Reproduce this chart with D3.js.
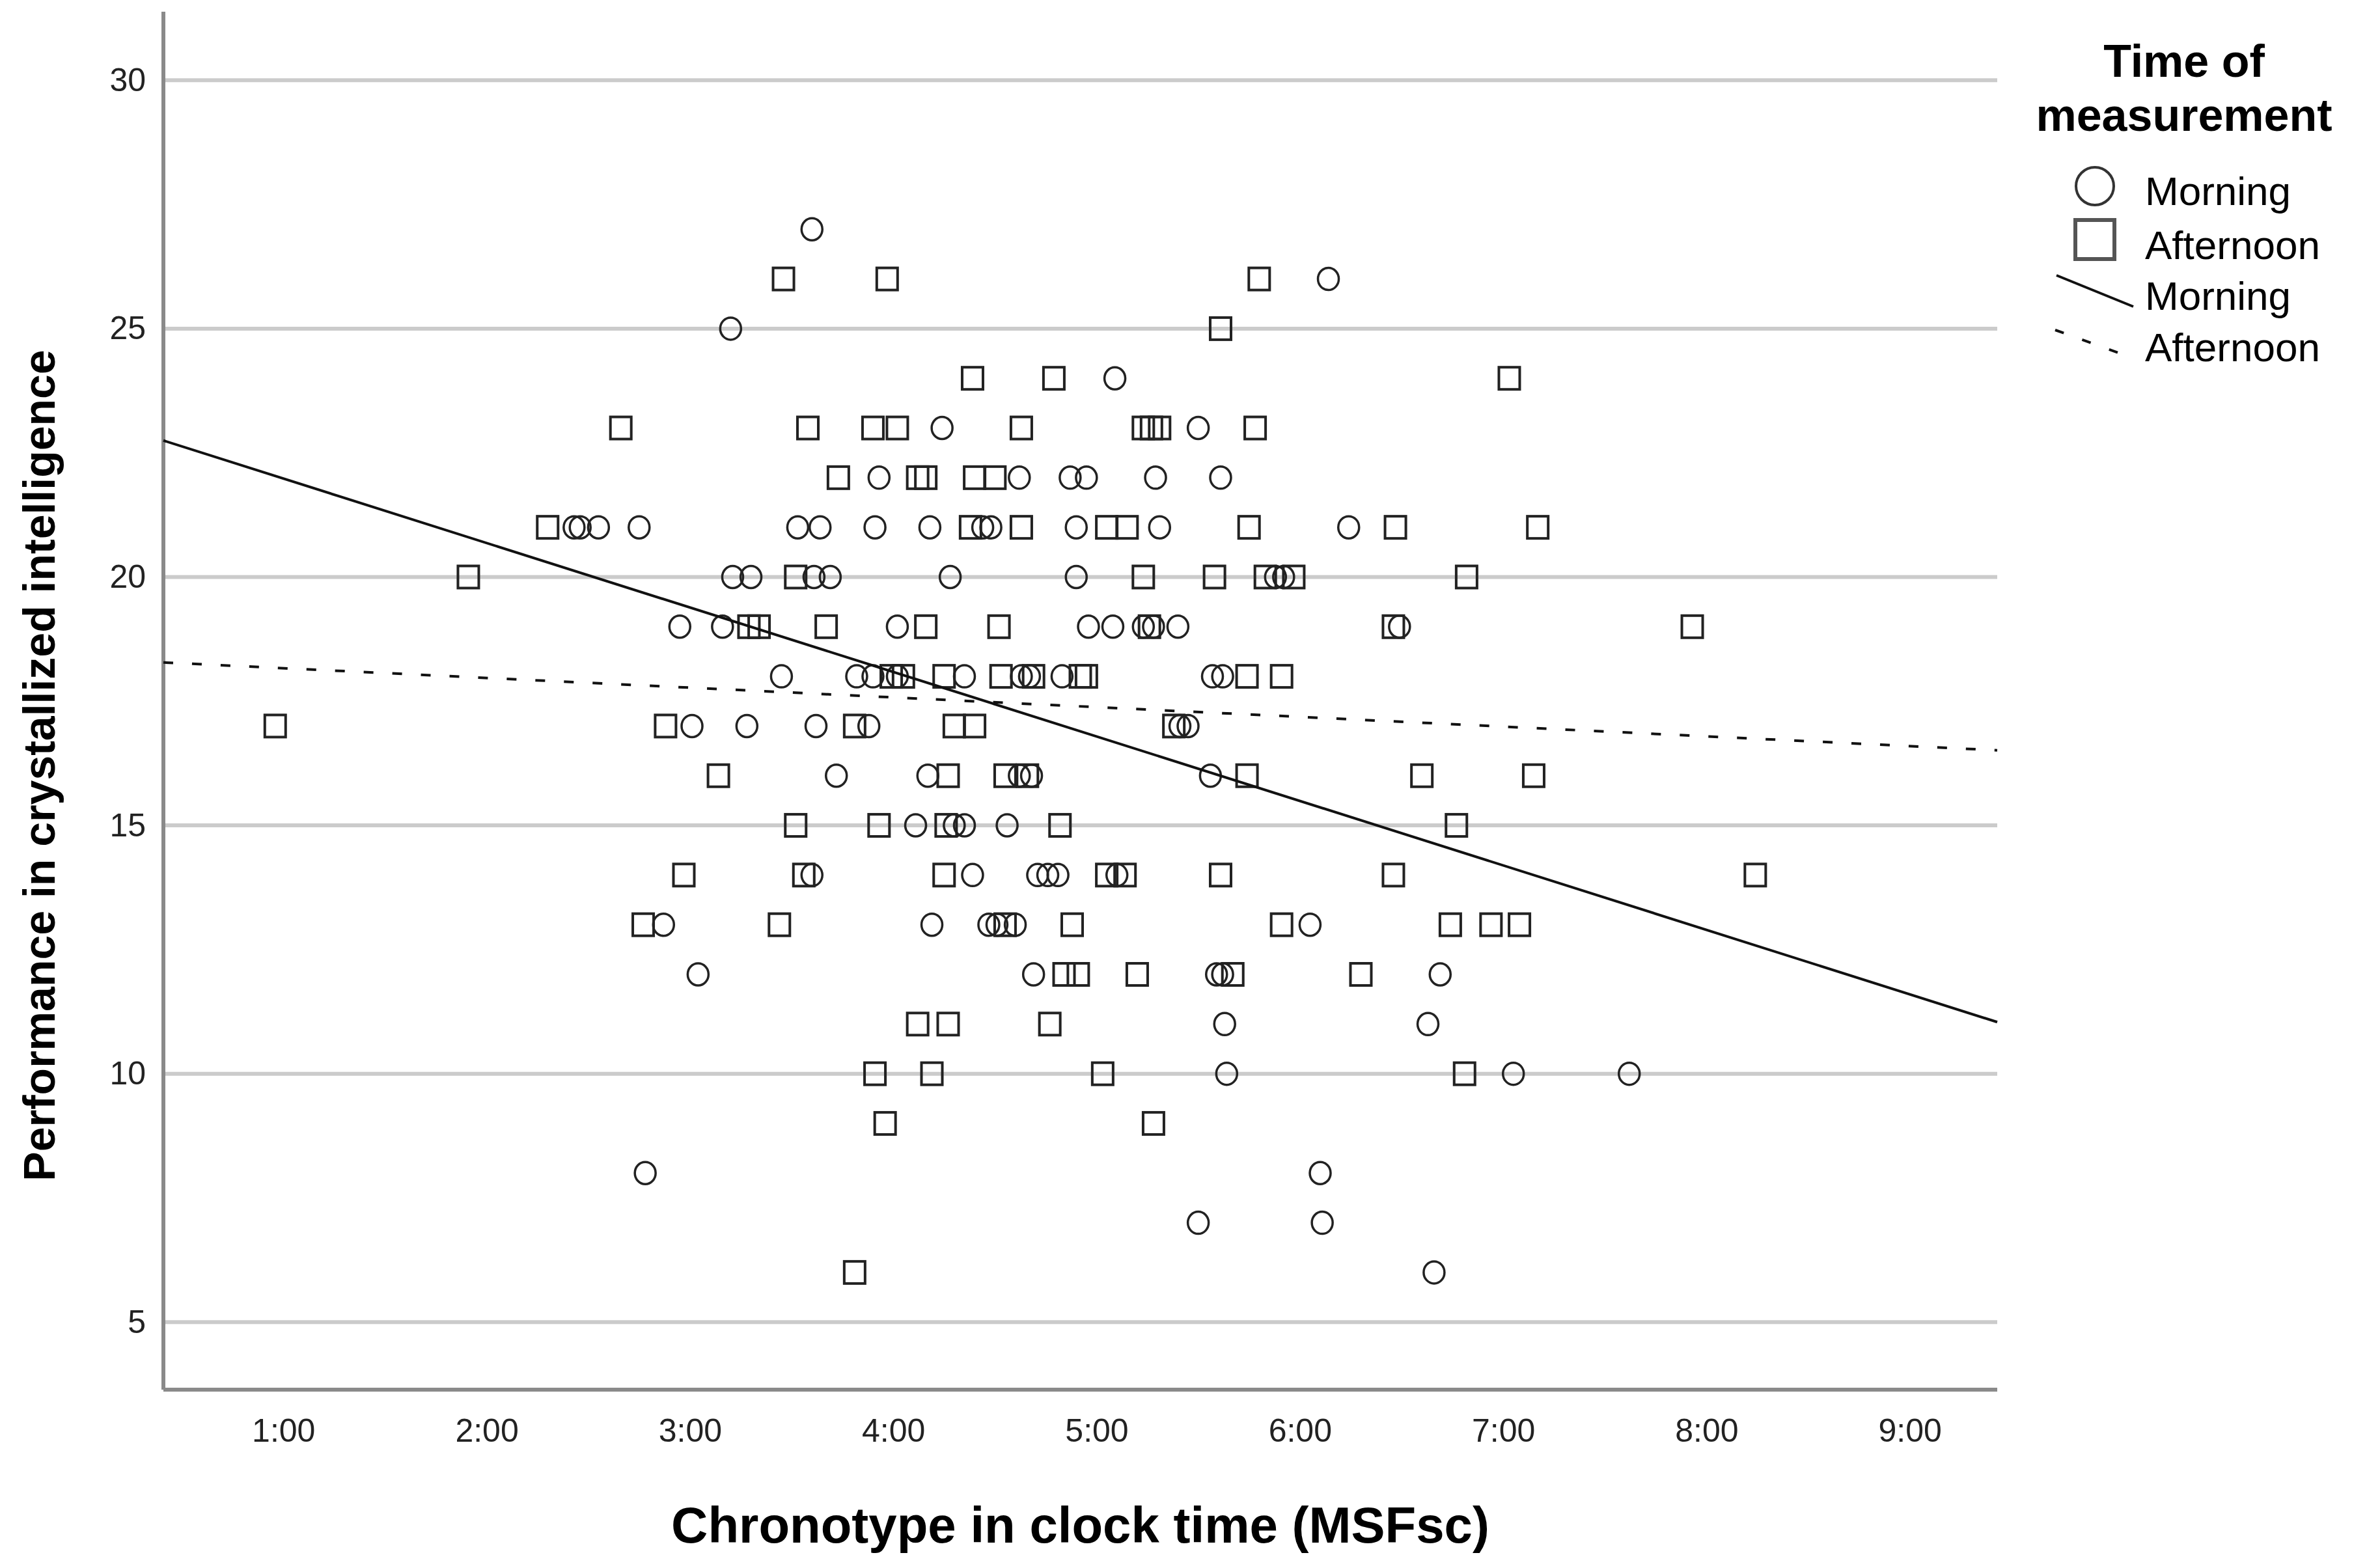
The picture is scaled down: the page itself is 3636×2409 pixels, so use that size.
<!DOCTYPE html>
<html>
<head>
<meta charset="utf-8">
<script src="https://cdn.jsdelivr.net/npm/d3@7"></script>
<style>
  body { margin: 0; background: #fff; }
  text { font-family: "Liberation Sans", Arial, sans-serif; }
</style>
</head>
<body>
<div id="chart"></div>
<script>
// [hours (MSFsc), score]
var morningPts = [
  [3.60,27],
  [6.14,26],
  [3.20,25],
  [5.09,24],
  [4.24,23],[5.50,23],
  [3.93,22],[4.62,22],[4.87,22],[4.95,22],[5.29,22],[5.61,22],
  [2.43,21],[2.46,21],[2.55,21],[2.75,21],[3.53,21],[3.64,21],[3.91,21],[4.18,21],[4.44,21],[4.48,21],[4.90,21],[5.31,21],[6.24,21],
  [3.21,20],[3.30,20],[3.61,20],[3.69,20],[4.28,20],[4.90,20],[5.88,20],[5.92,20],
  [2.95,19],[3.16,19],[4.02,19],[4.96,19],[5.08,19],[5.23,19],[5.28,19],[5.40,19],[6.49,19],
  [3.45,18],[3.82,18],[3.90,18],[4.02,18],[4.35,18],[4.63,18],[4.67,18],[4.83,18],[5.57,18],[5.62,18],
  [3.01,17],[3.28,17],[3.62,17],[3.88,17],[5.41,17],[5.45,17],
  [3.72,16],[4.17,16],[4.62,16],[4.68,16],[5.56,16],
  [4.11,15],[4.30,15],[4.35,15],[4.56,15],
  [3.60,14],[4.39,14],[4.71,14],[4.76,14],[4.81,14],[5.10,14],
  [2.87,13],[4.19,13],[4.47,13],[4.51,13],[4.60,13],[6.05,13],
  [3.04,12],[4.69,12],[5.59,12],[5.62,12],[6.69,12],
  [5.63,11],[6.63,11],
  [5.64,10],[7.05,10],[7.62,10],
  [2.78,8],[6.10,8],
  [5.50,7],[6.11,7],
  [6.66,6]
]

var afternoonPts = [
  [3.46,26],[3.97,26],[5.80,26],
  [5.61,25],
  [4.39,24],[4.79,24],[7.03,24],
  [2.66,23],[3.58,23],[3.90,23],[4.02,23],[4.63,23],[5.23,23],[5.27,23],[5.31,23],[5.78,23],
  [3.73,22],[4.12,22],[4.16,22],[4.40,22],[4.50,22],
  [2.30,21],[4.38,21],[4.63,21],[5.05,21],[5.15,21],[5.75,21],[6.47,21],[7.17,21],
  [1.91,20],[3.52,20],[5.23,20],[5.58,20],[5.83,20],[5.97,20],[6.82,20],
  [3.29,19],[3.34,19],[3.67,19],[4.16,19],[4.52,19],[5.26,19],[6.46,19],[7.93,19],
  [3.99,18],[4.05,18],[4.25,18],[4.53,18],[4.69,18],[4.92,18],[4.95,18],[5.74,18],[5.91,18],
  [0.96,17],[2.88,17],[3.81,17],[4.30,17],[4.40,17],[5.38,17],
  [3.14,16],[4.27,16],[4.55,16],[4.66,16],[5.74,16],[6.60,16],[7.15,16],
  [3.52,15],[3.93,15],[4.26,15],[4.82,15],[6.77,15],
  [2.97,14],[3.56,14],[4.25,14],[5.05,14],[5.14,14],[5.61,14],[6.46,14],[8.24,14],
  [2.77,13],[3.44,13],[4.55,13],[4.88,13],[5.91,13],[6.74,13],[6.94,13],[7.08,13],
  [4.84,12],[4.91,12],[5.20,12],[5.67,12],[6.30,12],
  [4.12,11],[4.27,11],[4.77,11],
  [3.91,10],[4.19,10],[5.03,10],[6.81,10],
  [3.96,9],[5.28,9],
  [3.81,6]
]

// linear fit lines: [intercept, slope]
var morningFit = [23.28, -1.298]
var afternoonFit = [18.36, -0.196]

var xTicks = [1, 2, 3, 4, 5, 6, 7, 8, 9]
var yTicks = [5, 10, 15, 20, 25, 30]
var legendLabels = ["Morning", "Afternoon"]

var width = 3636, height = 2409
var plot = {left: 251, right: 3068, top: 18, bottom: 2135}

var svg = d3.select("#chart").append("svg")
    .attr("width", width)
    .attr("height", height)

svg.append("rect").attr("width", width).attr("height", height).attr("fill", "#fff")

var x = d3.scaleLinear()
    .domain([0.41, 9.43])
    .range([plot.left, plot.right])

var y = d3.scaleLinear()
    .domain([3.64, 31.38])
    .range([plot.bottom, plot.top])

// gridlines
svg.append("g")
  .selectAll("line")
    .data(yTicks)
  .enter().append("line")
    .attr("x1", plot.left)
    .attr("x2", plot.right)
    .attr("y1", function(d) { return y(d) })
    .attr("y2", function(d) { return y(d) })
    .attr("stroke", "#cbcbcb")
    .attr("stroke-width", 6)

// axes (no tick marks, just labels)
var yAxis = d3.axisLeft(y).tickValues(yTicks).tickSize(0).tickPadding(27)
var gy = svg.append("g")
    .attr("transform", "translate(" + plot.left + ",0)")
    .call(yAxis)
gy.select(".domain").remove()
gy.selectAll("text")
    .style("font-family", '"Liberation Sans", Arial, sans-serif')
    .style("font-size", "50px")
    .attr("fill", "#222")

var xAxis = d3.axisBottom(x).tickValues(xTicks).tickSize(0).tickPadding(44)
  .tickFormat(function(d) { return d + ":00" })
var gx = svg.append("g")
    .attr("transform", "translate(0," + plot.bottom + ")")
    .call(xAxis)
gx.select(".domain").remove()
gx.selectAll("text")
    .style("font-family", '"Liberation Sans", Arial, sans-serif')
    .style("font-size", "50px")
    .attr("fill", "#222")

svg.append("line")
    .attr("x1", plot.left).attr("x2", plot.left)
    .attr("y1", plot.top).attr("y2", plot.bottom)
    .attr("stroke", "#8a8a8a").attr("stroke-width", 6)
svg.append("line")
    .attr("x1", plot.left).attr("x2", plot.right)
    .attr("y1", plot.bottom).attr("y2", plot.bottom)
    .attr("stroke", "#8a8a8a").attr("stroke-width", 6)

// points
var pts = svg.append("g")

pts.selectAll("rect.afternoon")
    .data(afternoonPts)
  .enter().append("rect")
    .attr("class", "afternoon")
    .attr("x", function(d) { return x(d[0]) - 16 })
    .attr("y", function(d) { return y(d[1]) - 17 })
    .attr("width", 32)
    .attr("height", 34)
    .attr("fill", "none")
    .attr("stroke", "#222")
    .attr("stroke-width", 4)

pts.selectAll("ellipse.morning")
    .data(morningPts)
  .enter().append("ellipse")
    .attr("class", "morning")
    .attr("cx", function(d) { return x(d[0]) })
    .attr("cy", function(d) { return y(d[1]) })
    .attr("rx", 16)
    .attr("ry", 17)
    .attr("fill", "none")
    .attr("stroke", "#222")
    .attr("stroke-width", 3.5)

// fit lines across the whole x domain
function fitLine(f) {
  var xs = x.domain()
  return d3.line()(xs.map(function(v) { return [x(v), y(f[0] + f[1] * v)] }))
}

svg.append("path")
    .attr("d", fitLine(morningFit))
    .attr("fill", "none")
    .attr("stroke", "#111")
    .attr("stroke-width", 4)

svg.append("path")
    .attr("d", fitLine(afternoonFit))
    .attr("fill", "none")
    .attr("stroke", "#111")
    .attr("stroke-width", 4)
    .attr("stroke-dasharray", "15,29")

// axis titles
svg.append("text")
    .attr("x", (plot.left + plot.right) / 2)
    .attr("y", 2370)
    .attr("text-anchor", "middle")
    .style("font-size", "78px")
    .style("font-weight", "bold")
    .text("Chronotype in clock time (MSFsc)")

svg.append("text")
    .attr("transform", "translate(84,1176) rotate(-90)")
    .attr("text-anchor", "middle")
    .style("font-size", "68px")
    .style("font-weight", "bold")
    .text("Performance in crystallized intelligence")

// legend
var lg = svg.append("g")

lg.append("text")
    .attr("x", 3355).attr("y", 118)
    .attr("text-anchor", "middle")
    .style("font-size", "70px").style("font-weight", "bold")
    .text("Time of")
lg.append("text")
    .attr("x", 3355).attr("y", 201)
    .attr("text-anchor", "middle")
    .style("font-size", "70px").style("font-weight", "bold")
    .text("measurement")

lg.append("circle")
    .attr("cx", 3218).attr("cy", 286).attr("r", 29)
    .attr("fill", "none").attr("stroke", "#333").attr("stroke-width", 4)
lg.append("rect")
    .attr("x", 3188).attr("y", 338).attr("width", 60).attr("height", 60)
    .attr("fill", "none").attr("stroke", "#555").attr("stroke-width", 6)
lg.append("line")
    .attr("x1", 3159).attr("y1", 423).attr("x2", 3277).attr("y2", 471)
    .attr("stroke", "#111").attr("stroke-width", 4)
lg.append("line")
    .attr("x1", 3157).attr("y1", 507).attr("x2", 3257).attr("y2", 543)
    .attr("stroke", "#111").attr("stroke-width", 4)
    .attr("stroke-dasharray", "14,30")

var legendRows = [legendLabels[0], legendLabels[1], legendLabels[0], legendLabels[1]]
var legendBase = [315, 398, 476, 555]
lg.selectAll("text.item")
    .data(legendRows)
  .enter().append("text")
    .attr("class", "item")
    .attr("x", 3295)
    .attr("y", function(d, i) { return legendBase[i] })
    .style("font-size", "62px")
    .text(function(d) { return d })
</script>
</body>
</html>
